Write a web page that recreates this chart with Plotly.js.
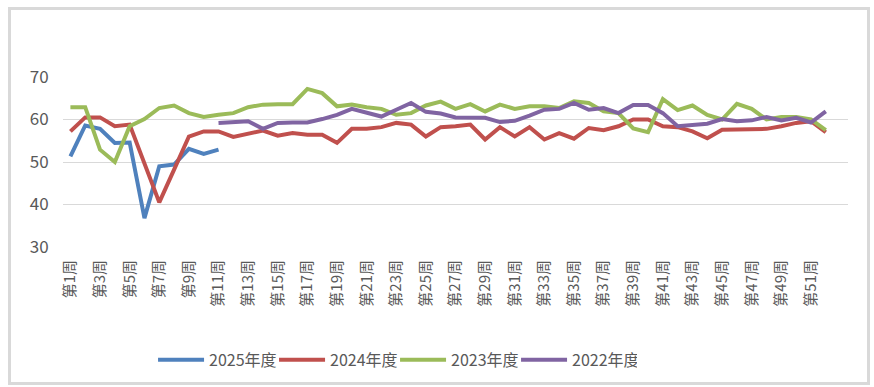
<!DOCTYPE html>
<html>
<head>
<meta charset="utf-8">
<script src="https://cdn.plot.ly/plotly-3.0.1.min.js"></script>
<style>
  html, body { margin: 0; padding: 0; background: #ffffff; }
  #wrap { position: relative; width: 874px; height: 387px; }
  #chart { width: 874px; height: 387px; }
  #frame { position: absolute; left: 8px; top: 7px; width: 862px; height: 378px;
           box-sizing: border-box; border: 3px solid #d9d9d9; pointer-events: none; }
</style>
</head>
<body>
<div id="wrap"><div id="chart"></div><div id="frame"></div></div>
<script>
// Categories: week labels
const weeks = [];
for (let i = 1; i <= 52; i++) weeks.push('第' + i + '周');
const tickWeeks = weeks.filter((w, i) => i % 2 === 0);

const seriesNames = ['2025年度', '2024年度', '2023年度', '2022年度'];

const v2025 = [51.3, 58.6, 57.8, 54.5, 54.6, 36.8, 49.0, 49.4, 53.1, 51.9, 52.9];

const v2024 = [57.2, 60.5, 60.5, 58.4, 58.8, 49.4, 40.5, 48.2, 56.0, 57.2,
               57.2, 55.9, 56.7, 57.4, 56.2, 56.8, 56.4, 56.4, 54.5, 57.8,
               57.8, 58.2, 59.2, 58.8, 56.0, 58.2, 58.4, 58.8, 55.3, 58.2,
               56.0, 58.2, 55.3, 56.8, 55.5, 58.0, 57.5, 58.4, 60.0, 60.0,
               58.4, 58.2, 57.2, 55.6, 57.6, 57.6, 57.6, 57.8, 58.4, 59.2,
               59.6, 57.0];

const v2023 = [62.9, 62.9, 52.9, 50.0, 58.4, 60.1, 62.7, 63.3, 61.5, 60.6,
               61.1, 61.5, 62.9, 63.5, 63.6, 63.6, 67.2, 66.2, 63.1, 63.5,
               62.9, 62.5, 61.1, 61.5, 63.3, 64.2, 62.5, 63.6, 61.9, 63.5,
               62.5, 63.1, 63.1, 62.7, 64.3, 63.9, 61.9, 61.5, 57.9, 57.0,
               64.8, 62.2, 63.3, 61.1, 60.0, 63.7, 62.5, 60.0, 60.6, 60.6,
               60.0, 57.5];

const v2022 = [null, null, null, null, null, null, null, null, null, null,
               59.2, 59.5, 59.6, 57.8, 59.2, 59.3, 59.3, 60.1, 61.1, 62.5,
               61.5, 60.7, 62.3, 63.9, 61.8, 61.4, 60.5, 60.5, 60.4, 59.4,
               59.7, 60.9, 62.3, 62.5, 63.9, 62.3, 62.7, 61.5, 63.4, 63.4,
               61.5, 58.4, 58.8, 59.0, 60.1, 59.6, 59.8, 60.6, 59.8, 60.4,
               59.3, 61.9];

const yTicks = [30, 40, 50, 60, 70];

const colors = ['#4F81BD', '#C0504D', '#9BBB59', '#8064A2'];
const allVals = [v2025, v2024, v2023, v2022];

const FONT = '"Noto Sans CJK SC", "Open Sans", sans-serif';

const traces = allVals.map((vals, k) => ({
  type: 'scatter',
  mode: 'lines',
  name: seriesNames[k],
  x: weeks.slice(0, vals.length),
  y: vals,
  line: { color: colors[k], width: 4 },
  connectgaps: false,
  hoverinfo: 'skip'
}));

const layout = {
  width: 874,
  height: 387,
  margin: { l: 63, r: 26, t: 77, b: 140 },
  paper_bgcolor: '#ffffff',
  plot_bgcolor: '#ffffff',
  showlegend: true,
  font: { family: FONT, color: '#595959' },
  xaxis: {
    type: 'category',
    categoryorder: 'array',
    categoryarray: weeks,
    range: [-0.5, 52.5],
    showgrid: false,
    zeroline: false,
    showline: false,
    tickmode: 'array',
    tickvals: tickWeeks,
    ticktext: tickWeeks,
    tickangle: -90,
    ticks: 'outside',
    ticklen: 6,
    tickcolor: 'rgba(0,0,0,0)',
    tickfont: { family: FONT, size: 15, color: '#595959' }
  },
  yaxis: {
    range: [30, 70],
    tickmode: 'array',
    tickvals: yTicks,
    showgrid: true,
    gridcolor: '#d9d9d9',
    gridwidth: 1,
    zeroline: false,
    showline: false,
    ticks: 'outside',
    ticklen: 10,
    tickcolor: 'rgba(0,0,0,0)',
    tickfont: { family: FONT, size: 17, color: '#595959' }
  },
  legend: {
    orientation: 'h',
    xref: 'container',
    yref: 'container',
    x: 0.452,
    xanchor: 'center',
    y: 0.07,
    yanchor: 'middle',
    font: { family: FONT, size: 16, color: '#595959' },
    itemwidth: 46,
    entrywidthmode: 'pixels',
    entrywidth: 60,
    tracegroupgap: 0
  }
};

Plotly.newPlot('chart', traces, layout, { displayModeBar: false, staticPlot: true });
</script>
</body>
</html>
